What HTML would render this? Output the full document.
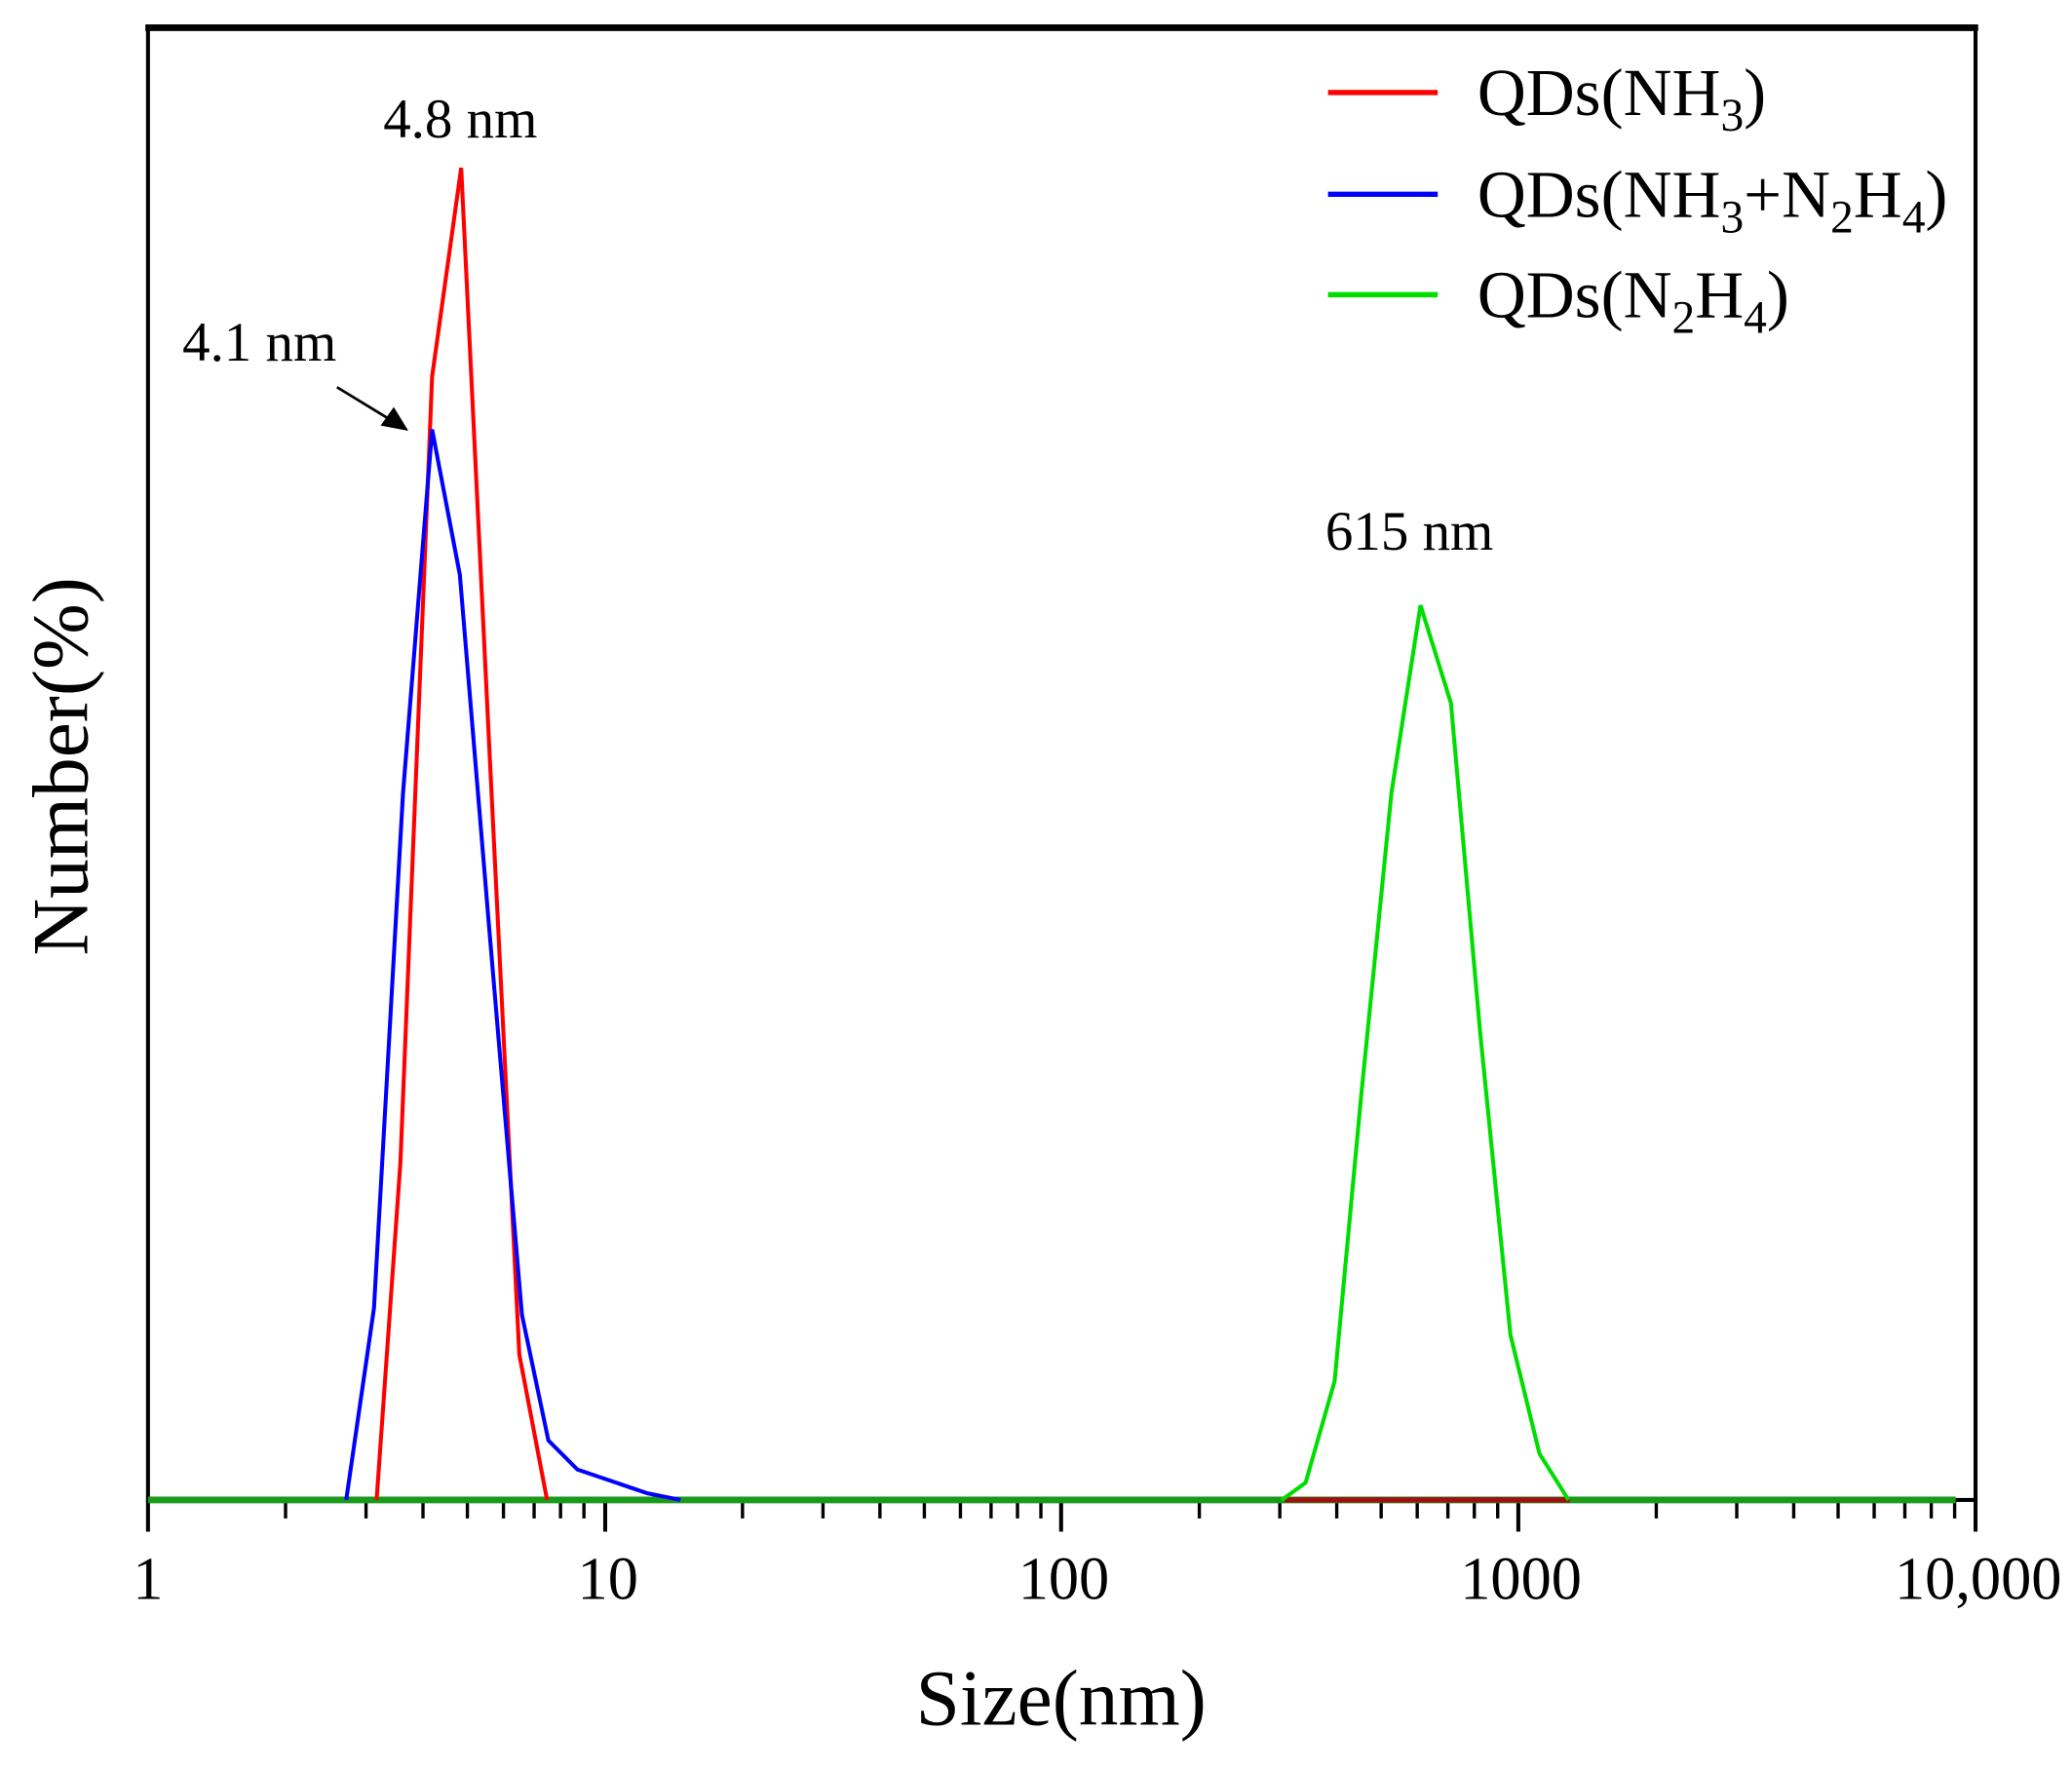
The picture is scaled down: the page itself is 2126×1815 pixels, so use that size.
<!DOCTYPE html>
<html><head><meta charset="utf-8"><style>html,body{margin:0;padding:0;background:#fff}svg{display:block}</style></head>
<body>
<svg width="2126" height="1815" viewBox="0 0 1568 1338.6" preserveAspectRatio="none" xmlns="http://www.w3.org/2000/svg" font-family="Liberation Serif, serif">
<rect width="1568" height="1338.6" fill="#fff"/>
<rect x="112" y="20" width="1383" height="1115" fill="none" stroke="#000" stroke-width="3"/>
<line x1="110" y1="21" x2="1497" y2="21" stroke="#000" stroke-width="5"/>
<g stroke="#000" stroke-width="3">
<line x1="112" y1="1135" x2="112" y2="1159"/><line x1="458" y1="1135" x2="458" y2="1159"/><line x1="803" y1="1135" x2="803" y2="1159"/><line x1="1149" y1="1135" x2="1149" y2="1159"/><line x1="1495" y1="1135" x2="1495" y2="1159"/>
</g>
<g stroke="#000" stroke-width="2.5">
<line x1="216.1" y1="1135" x2="216.1" y2="1149"/><line x1="277" y1="1135" x2="277" y2="1149"/><line x1="320.1" y1="1135" x2="320.1" y2="1149"/><line x1="353.7" y1="1135" x2="353.7" y2="1149"/><line x1="381" y1="1135" x2="381" y2="1149"/><line x1="404.2" y1="1135" x2="404.2" y2="1149"/><line x1="424.2" y1="1135" x2="424.2" y2="1149"/><line x1="441.9" y1="1135" x2="441.9" y2="1149"/>
<line x1="561.9" y1="1135" x2="561.9" y2="1149"/><line x1="622.8" y1="1135" x2="622.8" y2="1149"/><line x1="665.9" y1="1135" x2="665.9" y2="1149"/><line x1="699.5" y1="1135" x2="699.5" y2="1149"/><line x1="726.8" y1="1135" x2="726.8" y2="1149"/><line x1="750" y1="1135" x2="750" y2="1149"/><line x1="770" y1="1135" x2="770" y2="1149"/><line x1="787.7" y1="1135" x2="787.7" y2="1149"/>
<line x1="907.6" y1="1135" x2="907.6" y2="1149"/><line x1="968.5" y1="1135" x2="968.5" y2="1149"/><line x1="1011.6" y1="1135" x2="1011.6" y2="1149"/><line x1="1045.2" y1="1135" x2="1045.2" y2="1149"/><line x1="1072.5" y1="1135" x2="1072.5" y2="1149"/><line x1="1095.7" y1="1135" x2="1095.7" y2="1149"/><line x1="1115.7" y1="1135" x2="1115.7" y2="1149"/><line x1="1133.4" y1="1135" x2="1133.4" y2="1149"/>
<line x1="1253.4" y1="1135" x2="1253.4" y2="1149"/><line x1="1314.3" y1="1135" x2="1314.3" y2="1149"/><line x1="1357.4" y1="1135" x2="1357.4" y2="1149"/><line x1="1391" y1="1135" x2="1391" y2="1149"/><line x1="1418.3" y1="1135" x2="1418.3" y2="1149"/><line x1="1441.5" y1="1135" x2="1441.5" y2="1149"/><line x1="1461.5" y1="1135" x2="1461.5" y2="1149"/><line x1="1479.2" y1="1135" x2="1479.2" y2="1149"/>
</g>
<g font-size="46" text-anchor="middle" fill="#000">
<text x="112" y="1210">1</text><text x="460" y="1210">10</text><text x="805" y="1210">100</text><text x="1151" y="1210">1000</text><text x="1497" y="1210">10,000</text>
</g>
<text x="803" y="1305" font-size="60" text-anchor="middle">Size(nm)</text>
<text transform="translate(66,580) rotate(-90)" font-size="60" text-anchor="middle">Number(%)</text>
<line x1="112" y1="1135" x2="1480" y2="1135" stroke="#1a9a1a" stroke-width="5"/>
<line x1="972" y1="1135" x2="1188" y2="1135" stroke="#a01010" stroke-width="4"/>
<polyline fill="none" stroke="#ff0000" stroke-width="3" points="285,1135 303,880 327,285 349,127 370,560 393,1025 414,1135"/>
<polyline fill="none" stroke="#0000ff" stroke-width="3" points="262,1135 283,990 305,600 327,325 348,435 370,700 395,995 415,1090 437,1112 490,1130 515,1135"/>
<polyline fill="none" stroke="#00dd00" stroke-width="3" points="970,1135 988,1122 1010,1045 1030,830 1053,600 1075,458 1098,532 1120,780 1143,1010 1165,1100 1187,1135"/>
<g font-size="42" fill="#000">
<text x="290" y="104">4.8 nm</text>
<text x="138" y="273">4.1 nm</text>
<text x="1003" y="416">615 nm</text>
</g>
<line x1="255" y1="293" x2="296" y2="318" stroke="#000" stroke-width="2"/>
<polygon points="309,326 288,322 298,308" fill="#000"/>
<g stroke-width="4">
<line x1="1005" y1="70" x2="1088" y2="70" stroke="#ff0000"/>
<line x1="1005" y1="147" x2="1088" y2="147" stroke="#0000ff"/>
<line x1="1005" y1="223" x2="1088" y2="223" stroke="#00dd00"/>
</g>
<g font-size="51" fill="#000">
<text x="1118" y="87">QDs(NH<tspan font-size="35" dy="12">3</tspan><tspan dy="-12">)</tspan></text>
<text x="1118" y="164">QDs(NH<tspan font-size="35" dy="12">3</tspan><tspan dy="-12">+N</tspan><tspan font-size="35" dy="12">2</tspan><tspan dy="-12">H</tspan><tspan font-size="35" dy="12">4</tspan><tspan dy="-12">)</tspan></text>
<text x="1118" y="240">QDs(N<tspan font-size="35" dy="12">2</tspan><tspan dy="-12">H</tspan><tspan font-size="35" dy="12">4</tspan><tspan dy="-12">)</tspan></text>
</g>
</svg>
</body></html>
